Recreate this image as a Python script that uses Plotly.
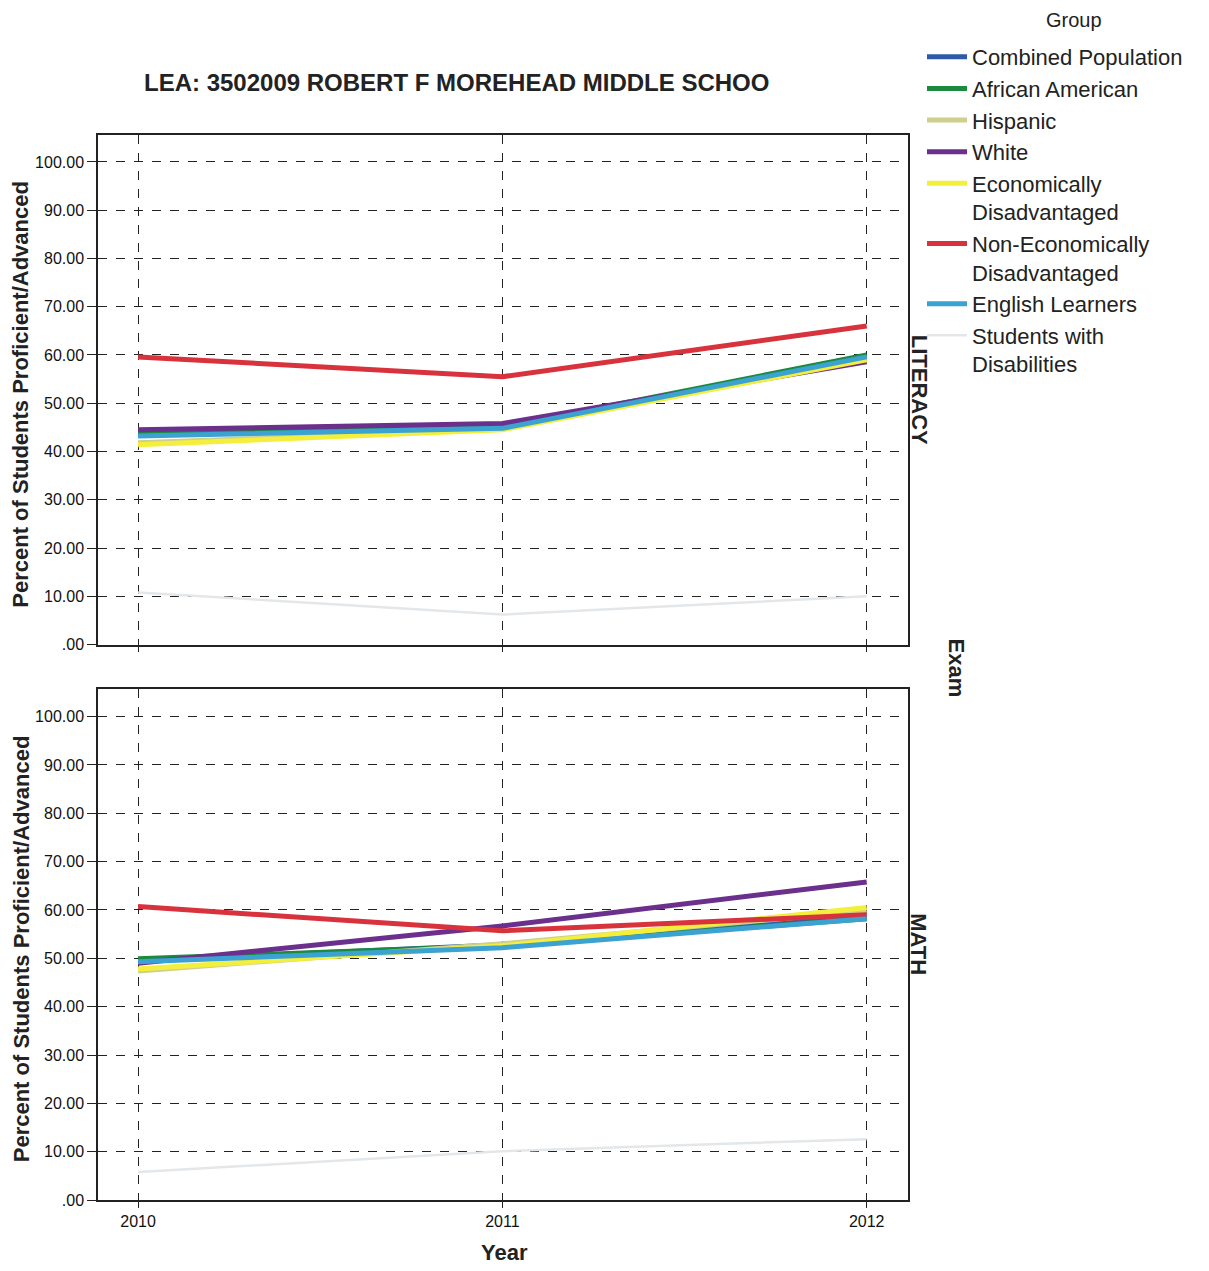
import plotly.graph_objects as go

years = [2010, 2011, 2012]
groups = ["Combined Population", "African American", "Hispanic", "White",
          "Economically<br>Disadvantaged", "Non-Economically<br>Disadvantaged",
          "English Learners", "Students with<br>Disabilities"]
colors = ["#2f5aa8", "#1b8a3e", "#cfcf8c", "#6b2f8c", "#f3ef3c", "#d8323c", "#3ba2d2", "#e3e7ea"]

literacy = {
    "Combined Population": [43.5, 44.9, 59.8],
    "African American": [43.9, 45.1, 60.0],
    "Hispanic": [41.8, 44.6, 59.3],
    "White": [44.5, 45.8, 58.6],
    "Economically<br>Disadvantaged": [41.4, 44.5, 59.0],
    "Non-Economically<br>Disadvantaged": [59.6, 55.5, 66.0],
    "English Learners": [43.2, 44.8, 59.6],
    "Students with<br>Disabilities": [10.8, 6.2, 10.0],
}
math = {
    "Combined Population": [49.5, 52.8, 58.6],
    "African American": [49.9, 52.6, 58.2],
    "Hispanic": [47.4, 53.0, 59.8],
    "White": [49.0, 56.7, 65.8],
    "Economically<br>Disadvantaged": [47.8, 52.6, 60.5],
    "Non-Economically<br>Disadvantaged": [60.7, 55.7, 59.0],
    "English Learners": [49.3, 52.2, 58.2],
    "Students with<br>Disabilities": [5.8, 10.1, 12.6],
}

ytickvals = [0, 10, 20, 30, 40, 50, 60, 70, 80, 90, 100]
yticktext = [".00", "10.00", "20.00", "30.00", "40.00", "50.00", "60.00", "70.00", "80.00", "90.00", "100.00"]

OFF = 8  # page body margin
VS = 0.9937  # vertical scale seen in the screenshot
W, H = 1209 - 2 * OFF, 1263
FONT = "Arial, Liberation Sans, sans-serif"

fig = go.Figure()
for g, c in zip(groups, colors):
    w = 2.5 if g.startswith("Students") else 5
    fig.add_trace(go.Scatter(x=years, y=literacy[g], mode="lines", name=g,
                             line=dict(color=c, width=w), xaxis="x", yaxis="y",
                             legendgroup=g, showlegend=True))
    fig.add_trace(go.Scatter(x=years, y=math[g], mode="lines", name=g,
                             line=dict(color=c, width=w), xaxis="x2", yaxis="y2",
                             legendgroup=g, showlegend=False))


def px(x):
    return (x - OFF) / W


def py(y):
    fy = y / VS - OFF
    return 1 - min(fy, H) / H


xdom = [px(98), px(907.5)]
xaxis_common = dict(range=[2009.89, 2012.112], tickvals=years, ticktext=[str(y) for y in years],
                    showgrid=True, gridcolor="#222", griddash="dash", gridwidth=1,
                    showline=True, linecolor="#222", linewidth=1.5, mirror=True,
                    zeroline=False, tickfont=dict(family=FONT, size=16, color="#111"),
                    ticks="outside", ticklen=6, tickcolor="#222")
yaxis_common = dict(range=[0, 105.6], tickvals=ytickvals, ticktext=yticktext,
                    showgrid=True, gridcolor="#222", griddash="dash", gridwidth=1,
                    showline=True, linecolor="#222", linewidth=1.5, mirror=True,
                    zeroline=False, tickfont=dict(family=FONT, size=16, color="#111"),
                    ticks="outside", ticklen=9, tickcolor="#222")

fig.update_layout(
    width=W, height=H,
    margin=dict(l=0, r=0, t=0, b=0),
    paper_bgcolor="white", plot_bgcolor="white",
    xaxis=dict(domain=xdom, anchor="y", showticklabels=False, **xaxis_common),
    yaxis=dict(domain=[py(645), py(135)], anchor="x", **yaxis_common),
    xaxis2=dict(domain=xdom, anchor="y2", showticklabels=True, **xaxis_common),
    yaxis2=dict(domain=[py(1201), py(690)], anchor="x2", **yaxis_common),
    legend=dict(x=px(922), y=py(36), xanchor="left", yanchor="top",
                font=dict(family=FONT, size=22, color="#222"),
                bgcolor="rgba(0,0,0,0)", itemwidth=40, tracegroupgap=0, valign="top"),
    showlegend=True,
)

ann = [
    dict(text="<b>LEA: 3502009 ROBERT F MOREHEAD MIDDLE SCHOO</b>", x=px(456), y=py(83),
         font=dict(family=FONT, size=24, color="#222")),
    dict(text="Group", x=px(1074), y=py(20), font=dict(family=FONT, size=20, color="#222")),
    dict(text="<b>Percent of Students Proficient/Advanced</b>", x=px(21), y=py(395), textangle=-90,
         font=dict(family=FONT, size=22, color="#222")),
    dict(text="<b>Percent of Students Proficient/Advanced</b>", x=px(21), y=py(950), textangle=-90,
         font=dict(family=FONT, size=22, color="#222")),
    dict(text="<b>LITERACY</b>", x=px(919), y=py(390), textangle=90,
         font=dict(family=FONT, size=22, color="#222")),
    dict(text="<b>MATH</b>", x=px(919), y=py(945), textangle=90,
         font=dict(family=FONT, size=22, color="#222")),
    dict(text="<b>Exam</b>", x=px(956), y=py(668), textangle=90,
         font=dict(family=FONT, size=22, color="#222")),
]
for a in ann:
    a.update(xref="paper", yref="paper", showarrow=False, xanchor="center", yanchor="middle")
ann.append(dict(text="<b>Year</b>", x=px(504), y=0, xref="paper", yref="paper", showarrow=False,
                xanchor="center", yanchor="bottom", borderpad=0, yshift=-4,
                font=dict(family=FONT, size=22, color="#222")))
fig.update_layout(annotations=ann)

fig.write_html("out.html")
